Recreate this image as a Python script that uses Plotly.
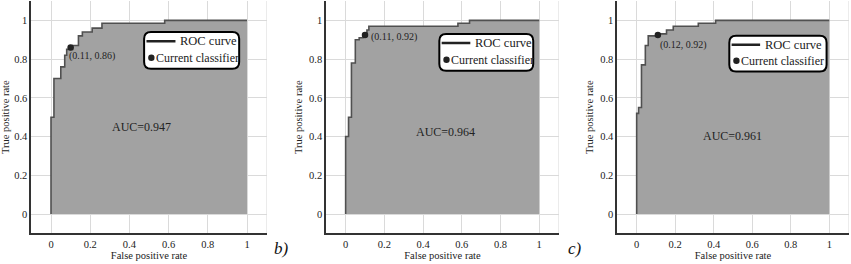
import plotly.graph_objects as go

# ---- data ----
fpr_a = [0, 0, 0.015, 0.015, 0.05, 0.05, 0.07, 0.07, 0.08, 0.08, 0.11, 0.11, 0.14, 0.14, 0.16, 0.16, 0.21, 0.21, 0.26, 0.26, 0.58, 0.58, 1.0]
tpr_a = [0, 0.50, 0.50, 0.70, 0.70, 0.76, 0.76, 0.82, 0.82, 0.85, 0.85, 0.87, 0.87, 0.92, 0.92, 0.94, 0.94, 0.96, 0.96, 0.985, 0.985, 1.0, 1.0]

fpr_b = [0, 0, 0.015, 0.015, 0.03, 0.03, 0.05, 0.05, 0.07, 0.07, 0.09, 0.09, 0.11, 0.11, 0.12, 0.12, 0.58, 0.58, 0.64, 0.64, 1.0]
tpr_b = [0, 0.40, 0.40, 0.50, 0.50, 0.78, 0.78, 0.90, 0.90, 0.91, 0.91, 0.92, 0.92, 0.95, 0.95, 0.97, 0.97, 0.985, 0.985, 1.0, 1.0]

fpr_c = [0, 0, 0.01, 0.01, 0.025, 0.025, 0.045, 0.045, 0.06, 0.06, 0.12, 0.12, 0.155, 0.155, 0.19, 0.19, 0.32, 0.32, 0.41, 0.41, 1.0]
tpr_c = [0, 0.52, 0.52, 0.55, 0.55, 0.77, 0.77, 0.87, 0.87, 0.92, 0.92, 0.93, 0.93, 0.95, 0.95, 0.97, 0.97, 0.985, 0.985, 1.0, 1.0]

classifier_x = [0.10, 0.10, 0.11]
classifier_y = [0.86, 0.925, 0.925]
classifier_labels = ["(0.11, 0.86)", "(0.11, 0.92)", "(0.12, 0.92)"]
auc_labels = ["AUC=0.947", "AUC=0.964", "AUC=0.961"]
panel_letters = ["", "b)", "c)"]
tick_vals = [0, 0.2, 0.4, 0.6, 0.8, 1]
tick_text = ["0", "0.2", "0.4", "0.6", "0.8", "1"]

# ---- layout helpers ----
FONT = "Liberation Serif"
FILL = "#a2a2a2"
LINE = "#505050"
GRID = "#dadada"

x_domains = [[0.0369, 0.3133], [0.3834, 0.6564], [0.7255, 0.9971]]
y_domain = [0.1159, 0.9962]
label_pos = [(0.082, 0.815), (0.122, 0.914), (0.11, 0.874)]
auc_pos = [(0.463, 0.45), (0.517, 0.425), (0.50, 0.405)]
legend_boxes = [(0.475, 0.75, 0.96, 0.94), (0.484, 0.74, 0.969, 0.93), (0.481, 0.736, 0.986, 0.92)]

series = [(fpr_a, tpr_a), (fpr_b, tpr_b), (fpr_c, tpr_c)]

fig = go.Figure()
shapes = []
annotations = []


def rounded_rect(x0, y0, x1, y1, r):
    return (f"M {x0 + r},{y0} L {x1 - r},{y0} Q {x1},{y0} {x1},{y0 + r} "
            f"L {x1},{y1 - r} Q {x1},{y1} {x1 - r},{y1} L {x0 + r},{y1} "
            f"Q {x0},{y1} {x0},{y1 - r} L {x0},{y0 + r} Q {x0},{y0} {x0 + r},{y0} Z")


for i, (fx, ty) in enumerate(series):
    sfx = "" if i == 0 else str(i + 1)
    xa, ya = "x" + sfx, "y" + sfx
    fig.add_trace(go.Scatter(x=fx, y=ty, mode="lines", fill="tozeroy",
                             fillcolor=FILL, line=dict(color=LINE, width=1.6),
                             xaxis=xa, yaxis=ya, showlegend=False, hoverinfo="skip"))
    fig.add_trace(go.Scatter(x=[classifier_x[i]], y=[classifier_y[i]], mode="markers",
                             marker=dict(color="#222222", size=6.5),
                             xaxis=xa, yaxis=ya, showlegend=False))

    axis_common = dict(range=[-0.1, 1.1], tickvals=tick_vals, ticktext=tick_text,
                       showgrid=True, gridcolor=GRID, gridwidth=1, zeroline=False,
                       showline=True, linecolor="#333333", linewidth=2,
                       ticks="", tickfont=dict(family=FONT, size=10.5, color="#222222"),
                       automargin=False, fixedrange=True)
    fig.update_layout(**{
        ("xaxis" + sfx): dict(axis_common, domain=x_domains[i], anchor=ya,
                              title=dict(text="False positive rate", standoff=1,
                                         font=dict(family=FONT, size=10.5, color="#222222"))),
        ("yaxis" + sfx): dict(axis_common, domain=y_domain, anchor=xa,
                              title=dict(text="True positive rate", standoff=4,
                                         font=dict(family=FONT, size=10.5, color="#222222"))),
    })

    # right frame edge (light)
    shapes.append(dict(type="line", xref=xa, yref=ya, x0=1.1, x1=1.1, y0=-0.1, y1=1.1,
                       line=dict(color=GRID, width=1), layer="below"))

    # legend box
    bx0, by0, bx1, by1 = legend_boxes[i]
    shapes.append(dict(type="path", xref=xa, yref=ya, path=rounded_rect(bx0, by0, bx1, by1, 0.035),
                       fillcolor="white", line=dict(color="black", width=2), layer="above"))
    ly1 = by1 - (by1 - by0) * 0.25
    ly2 = by0 + (by1 - by0) * 0.3
    shapes.append(dict(type="line", xref=xa, yref=ya, x0=bx0 + 0.012, x1=bx0 + 0.16,
                       y0=ly1, y1=ly1, line=dict(color="#222222", width=2.5), layer="above"))
    shapes.append(dict(type="circle", xref=xa, yref=ya, xsizemode="pixel", ysizemode="pixel",
                       xanchor=bx0 + 0.037, yanchor=ly2, x0=-3.2, x1=3.2, y0=-3.2, y1=3.2,
                       fillcolor="#222222", line=dict(width=0), layer="above"))
    annotations.append(dict(xref=xa, yref=ya, x=bx0 + 0.175, y=ly1, text="ROC curve",
                            showarrow=False, xanchor="left", yanchor="middle",
                            font=dict(family=FONT, size=12.5, color="#222222")))
    annotations.append(dict(xref=xa, yref=ya, x=bx0 + 0.05, y=ly2, text="Current classifier",
                            showarrow=False, xanchor="left", yanchor="middle",
                            font=dict(family=FONT, size=12, color="#222222")))

    # classifier label
    annotations.append(dict(xref=xa, yref=ya, x=label_pos[i][0], y=label_pos[i][1],
                            text=classifier_labels[i], showarrow=False, xanchor="left",
                            yanchor="middle", font=dict(family=FONT, size=10, color="#222222")))
    # AUC
    annotations.append(dict(xref=xa, yref=ya, x=auc_pos[i][0], y=auc_pos[i][1],
                            text=auc_labels[i], showarrow=False, xanchor="center",
                            yanchor="middle", font=dict(family=FONT, size=12, color="#222222")))

# panel letters
letter_x = [None, 281, 575]
for i, letter in enumerate(panel_letters):
    if letter:
        annotations.append(dict(xref="paper", yref="paper", x=letter_x[i] / 851, y=1 - 248 / 264,
                                text=f"<i>{letter}</i>", showarrow=False, xanchor="center",
                                yanchor="middle", font=dict(family=FONT, size=17, color="#111111")))

fig.update_layout(width=851, height=264, margin=dict(l=0, r=0, t=0, b=0),
                  paper_bgcolor="white", plot_bgcolor="white",
                  shapes=shapes, annotations=annotations, showlegend=False)

fig.write_html("out.html", config={"displayModeBar": False},
               post_script="document.body.style.margin='0';document.body.style.overflow='hidden';")
